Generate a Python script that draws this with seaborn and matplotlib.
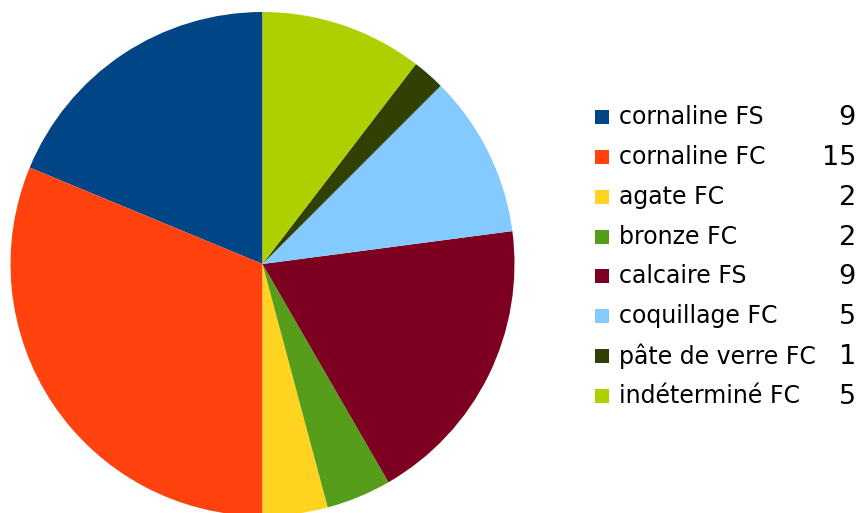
import matplotlib
matplotlib.use("Agg")
import matplotlib.pyplot as plt
import seaborn as sns
from matplotlib.patches import Rectangle

sns.set_theme(style="white")
plt.rcParams["font.family"] = ["DejaVu Sans"]

categories = ["cornaline FS", "cornaline FC", "agate FC", "bronze FC",
              "calcaire FS", "coquillage FC", "pâte de verre FC", "indéterminé FC"]
counts = [9, 15, 2, 2, 9, 5, 1, 5]
colors = ["#004586", "#ff420e", "#ffd320", "#579d1c",
          "#7e0021", "#83caff", "#314004", "#aecf00"]

W, H = 860, 513
fig = plt.figure(figsize=(W / 100, H / 100), dpi=100)
fig.patch.set_facecolor("white")

# pie: centre (262.5, 264) px from top-left, radius 252 px
cx, cy, r = 262.5, 264, 252
ax = fig.add_axes([(cx - r) / W, (H - cy - r) / H, 2 * r / W, 2 * r / H])
ax.pie(counts, colors=colors, startangle=90, counterclock=True,
       wedgeprops=dict(linewidth=0))
ax.set_xlim(-1, 1)
ax.set_ylim(-1, 1)
ax.set_aspect("auto")
ax.axis("off")

# legend drawn in a pixel-space overlay
lg = fig.add_axes([0, 0, 1, 1])
lg.set_xlim(0, W)
lg.set_ylim(H, 0)
lg.axis("off")
row0, step = 117, 39.86
for i, (name, val, col) in enumerate(zip(categories, counts, colors)):
    y = row0 + i * step
    lg.add_patch(Rectangle((595, y - 7), 14, 14, facecolor=col, edgecolor="none"))
    lg.text(619, y, name, fontsize=17, va="center", ha="left", color="black")
    lg.text(856, y + 1, str(val), fontsize=19.5, va="center", ha="right", color="black")

fig.savefig("out.png", dpi=100, facecolor="white")
